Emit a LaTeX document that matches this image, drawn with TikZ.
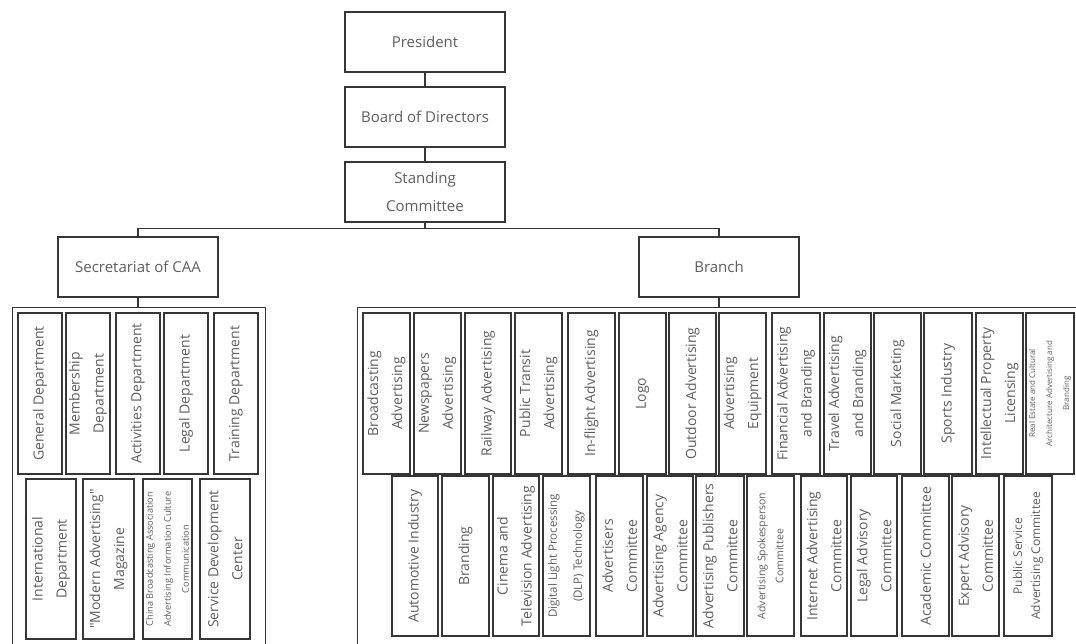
\documentclass[tikz,border=0pt]{standalone}
\usepackage{fontspec}
\setmainfont{Open Sans}[Ligatures=TeXOff]
\definecolor{boxc}{HTML}{363636}
\definecolor{txtc}{HTML}{5E5E5E}
\newcommand\fsz[2]{\fontsize{#1pt}{#2pt}\selectfont}

\begin{document}
\begin{tikzpicture}[x=1pt,y=-1pt,
  hbox/.style={draw=boxc, line width=1.2pt, minimum width=160pt, minimum height=60pt,
               inner sep=2pt, align=center, text=txtc, font=\fsz{15}{28}},
  vbox/.style={draw=boxc, line width=1.2pt, rotate=90, inner sep=1pt, align=center,
               text=txtc, font=\fsz{14}{24}},
  toprow/.style={vbox, minimum width=161pt},
  lowrow/.style={vbox, minimum width=160pt},
  group/.style={draw=boxc, line width=1pt, inner sep=0pt, anchor=north west},
  link/.style={draw=boxc, line width=1.1pt}]

\useasboundingbox (0,0) rectangle (1076,644);
\clip (0,0) rectangle (1076,644);

% ---- head of the organisation
\node[hbox] (pres)  at (425,42)  {President};
\node[hbox] (board) at (425,117) {Board of Directors};
\node[hbox] (stand) at (425,192) {Standing\\Committee};
\node[hbox] (sec)   at (138,267) {Secretariat of CAA};
\node[hbox] (branch) at (719,267) {Branch};

\draw[link] (pres) -- (board);
\draw[link] (board) -- (stand);
\draw[link] (stand.south) -- ++(0,6) coordinate (split) -| (sec.north);
\draw[link] (split) -| (branch.north);

% ---- frames holding the departments and branches
\node[group, minimum width=253pt, minimum height=400pt] (lgrp) at (12,307) {};
\node[group, minimum width=740pt, minimum height=400pt] (rgrp) at (357,307) {};
\draw[link] (sec.south) -- (sec.south |- lgrp.north);
\draw[link] (branch.south) -- (branch.south |- rgrp.north);

% ---- secretariat departments, upper row
\node[toprow, minimum height=44pt] (l1) at (40,393.5)  {General Department};
\node[toprow, minimum height=44pt] (l2) at (88,393.5)  {Membership\\Department};
\node[toprow, minimum height=44pt] (l3) at (138,393.5) {Activities Department};
\node[toprow, minimum height=44pt] (l4) at (186,393.5) {Legal Department};
\node[toprow, minimum height=44pt] (l5) at (236,393.5) {Training Department};

% ---- secretariat departments, lower row
\node[lowrow, minimum height=50pt] (m1) at (51,559)    {International\\Department};
\node[lowrow, minimum height=51pt] (m2) at (108.5,559) {"Modern Advertising"\\Magazine};
\node[lowrow, minimum height=49pt, font=\fsz{9.2}{18}] (m3) at (167.5,559)
  {China Broadcasting Association\\Advertising Information Culture\\Communication};
\node[lowrow, minimum height=50pt] (m4) at (225,559)   {Service Development\\Center};

% ---- branches, upper row
\node[toprow, minimum height=47pt] (r1)  at (386.5,393.5) {Broadcasting\\Advertising};
\node[toprow, minimum height=47pt] (r2)  at (437.5,393.5) {Newspapers\\Advertising};
\node[toprow, minimum height=46pt] (r3)  at (488,393.5)   {Railway Advertising};
\node[toprow, minimum height=47pt] (r4)  at (538.5,393.5) {Public Transit\\Advertising};
\node[toprow, minimum height=47pt] (r5)  at (591.5,393.5) {In-flight Advertising};
\node[toprow, minimum height=47pt] (r6)  at (642.5,393.5) {Logo};
\node[toprow, minimum height=47pt] (r7)  at (692.5,393.5) {Outdoor Advertising};
\node[toprow, minimum height=47pt] (r8)  at (742.5,393.5) {Advertising\\Equipment};
\node[toprow, minimum height=48pt] (r9)  at (796,393.5)   {Financial Advertising\\and Branding};
\node[toprow, minimum height=47pt] (r10) at (847.5,393.5) {Travel Advertising\\and Branding};
\node[toprow, minimum height=47pt] (r11) at (897.5,393.5) {Social Marketing};
\node[toprow, minimum height=48pt] (r12) at (948,393.5)   {Sports Industry};
\node[toprow, minimum height=47pt] (r13) at (999.5,393.5) {Intellectual Property\\Licensing};
\node[toprow, minimum height=48pt, font=\fsz{8}{17}] (r14) at (1050,393.5)
  {Real Estate and Cultural\\Architecture Advertising and\\Branding};

% ---- branches, lower row
\node[lowrow, minimum height=46pt] (b1)  at (415,556)    {Automotive Industry};
\node[lowrow, minimum height=47pt] (b2)  at (465.5,556)  {Branding};
\node[lowrow, minimum height=46pt] (b3)  at (516,556)    {Cinema and\\Television Advertising};
\node[lowrow, minimum height=47pt, font=\fsz{11.5}{25}] (b4) at (566.5,556)
  {Digital Light Processing\\(DLP) Technology};
\node[lowrow, minimum height=47pt] (b5)  at (619.5,556)  {Advertisers\\Committee};
\node[lowrow, minimum height=46pt] (b6)  at (670,556)    {Advertising Agency\\Committee};
\node[lowrow, minimum height=48pt] (b7)  at (720,556)    {Advertising Publishers\\Committee};
\node[lowrow, minimum height=47pt, font=\fsz{10.5}{18}] (b8) at (770.5,556)
  {Advertising Spokesperson\\Committee};
\node[lowrow, minimum height=46pt] (b9)  at (824,556)    {Internet Advertising\\Committee};
\node[lowrow, minimum height=46pt] (b10) at (874,556)    {Legal Advisory\\Committee};
\node[lowrow, minimum height=47pt] (b11) at (925.5,556)  {Academic Committee};
\node[lowrow, minimum height=47pt] (b12) at (975.5,556)  {Expert Advisory\\Committee};
\node[lowrow, minimum height=48pt, font=\fsz{12}{18}] (b13) at (1028,556)
  {Public Service\\Advertising Committee};

\end{tikzpicture}
\end{document}
